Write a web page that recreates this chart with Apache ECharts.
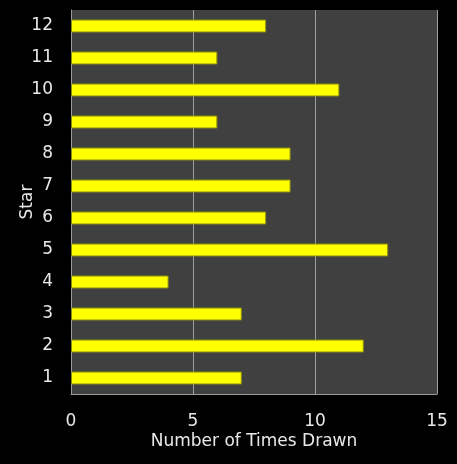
<!DOCTYPE html>
<html>
<head>
<meta charset="utf-8">
<script src="https://cdn.jsdelivr.net/npm/echarts@6/dist/echarts.min.js"></script>
<style>
  html, body { margin: 0; padding: 0; background: #000; }
  #chart { width: 457px; height: 464px; }
</style>
</head>
<body>
<div id="chart"></div>
<script>
var stars = ['1', '2', '3', '4', '5', '6', '7', '8', '9', '10', '11', '12'];
var timesDrawn = [7, 12, 7, 4, 13, 8, 9, 9, 6, 11, 6, 8];

var chart = echarts.init(document.getElementById('chart'));

var labelFont = 'DejaVu Sans';

var option = {
    backgroundColor: '#000000',
    animation: false,
    grid: {
        left: 71,
        right: 20,
        top: 10,
        bottom: 70,
        outerBoundsMode: 'none',
        show: true,
        backgroundColor: '#404040',
        borderWidth: 0
    },
    xAxis: {
        type: 'value',
        min: 0,
        max: 15,
        interval: 5,
        name: 'Number of Times Drawn',
        nameLocation: 'middle',
        nameGap: 39,
        nameMoveOverlap: false,
        nameTextStyle: { color: '#e8e8e8', fontSize: 17, fontFamily: labelFont },
        axisLine: { show: true, lineStyle: { color: '#9a9a9a', width: 1 } },
        axisTick: { show: false },
        axisLabel: { color: '#e8e8e8', fontSize: 17, fontFamily: labelFont, margin: 19 },
        splitLine: { show: true, lineStyle: { color: '#a0a0a0', width: 1 } }
    },
    yAxis: {
        type: 'category',
        data: stars,
        name: 'Star',
        nameLocation: 'middle',
        nameGap: 35,
        nameMoveOverlap: false,
        nameRotate: 90,
        nameTextStyle: { color: '#e8e8e8', fontSize: 17, fontFamily: labelFont },
        axisLine: { show: true, lineStyle: { color: '#9a9a9a', width: 1 } },
        axisTick: { show: false },
        axisLabel: { color: '#e8e8e8', fontSize: 17, fontFamily: labelFont, margin: 18 },
        splitLine: { show: false }
    },
    series: [
        {
            name: 'Times Drawn',
            type: 'bar',
            data: timesDrawn,
            barWidth: 13,
            itemStyle: {
                color: '#ffff00',
                borderColor: '#8a8a10',
                borderWidth: 1
            }
        }
    ]
};
chart.setOption(option);
</script>
</body>
</html>
